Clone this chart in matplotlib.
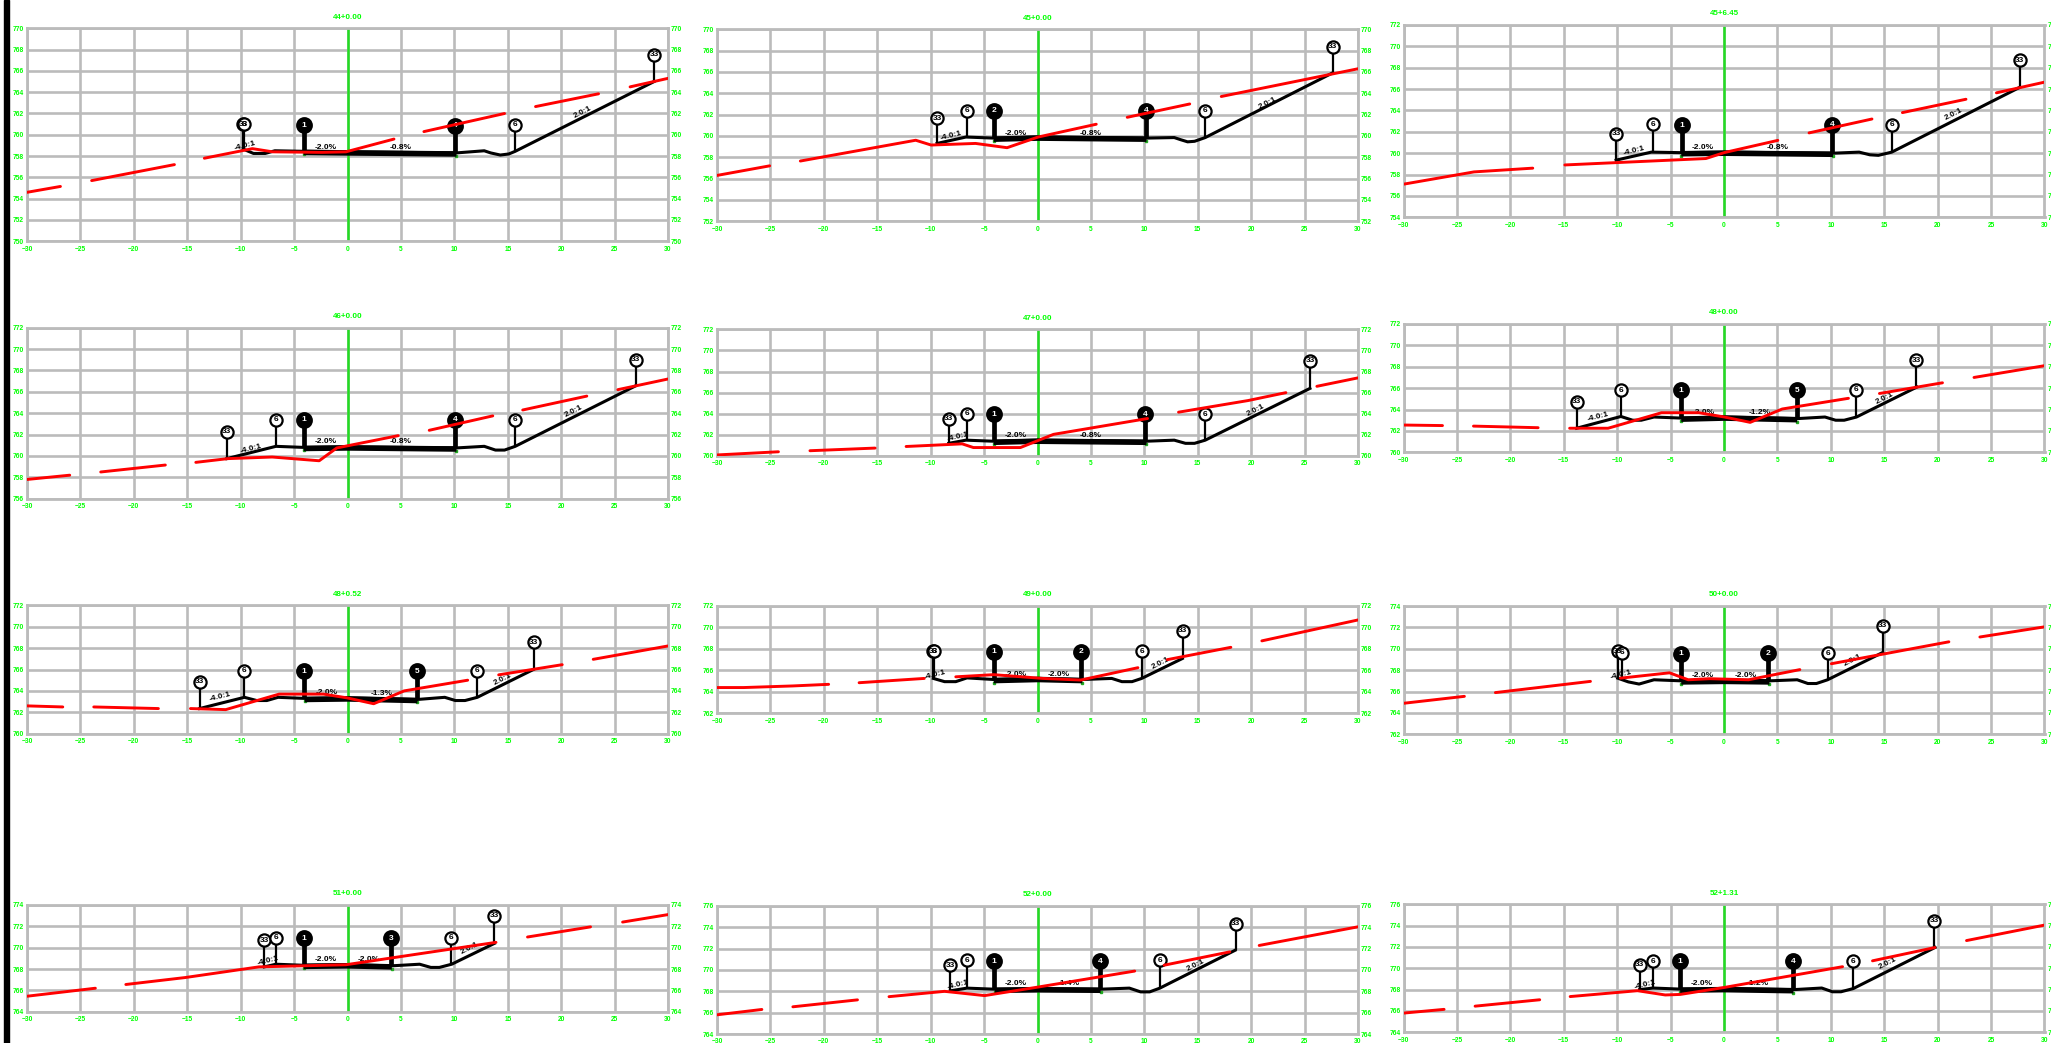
import numpy as np
import matplotlib
matplotlib.use("Agg")
import matplotlib.pyplot as plt
from matplotlib.patches import Rectangle

plt.rcParams['font.family'] = ['Liberation Sans', 'DejaVu Sans']

stations = ["44+0.00", "45+0.00", "45+6.45",
            "46+0.00", "47+0.00", "48+0.00",
            "48+0.52", "49+0.00", "50+0.00",
            "51+0.00", "52+0.00", "52+1.31"]
y_low = [750, 752, 754, 756, 760, 760, 760, 762, 762, 764, 764, 764]
y_high = [770, 770, 772, 772, 772, 772, 772, 772, 774, 774, 776, 776]

# existing ground, broken into pieces: [[xs, ys], ...]
ground = [
    [[[-30, -26.87], [754.6, 755.15]],
     [[-23.95, -16.2], [755.7, 757.2]],
     [[-13.4, -8.9, -7.0, -2.4, -0.15, 4.35], [757.8, 758.7, 758.4, 758.35, 758.4, 759.6]],
     [[7.15, 14.7], [760.3, 762.0]],
     [[17.6, 23.5], [762.65, 763.85]],
     [[26.45, 30], [764.5, 765.3]]],
    [[[-30, -25.07], [756.3, 757.2]],
     [[-22.2, -11.4, -9.96, -5.8, -2.85, 0.06, 5.5], [757.65, 759.6, 759.15, 759.3, 758.9, 759.9, 761.1]],
     [[8.4, 14.25], [761.75, 763.0]],
     [[17.2, 30], [763.7, 766.3]]],
    [[[-30, -23.4, -17.9], [757.1, 758.25, 758.6]],
     [[-14.9, -1.7, 0.04, 5.04], [758.9, 759.5, 760.06, 761.2]],
     [[7.96, 13.85], [761.9, 763.2]],
     [[16.7, 22.65], [763.8, 765.05]],
     [[25.5, 30], [765.65, 766.65]]],
    [[[-30, -26], [757.8, 758.2]],
     [[-23.1, -17.05], [758.5, 759.15]],
     [[-14.2, -11.2, -7.05, -2.65, -1, 4.75], [759.4, 759.75, 759.9, 759.55, 760.75, 761.9]],
     [[7.65, 13.6], [762.4, 763.75]],
     [[16.4, 22.4], [764.3, 765.6]],
     [[25.3, 30], [766.2, 767.2]]],
    [[[-30, -24.25], [760.1, 760.4]],
     [[-21.3, -15.2], [760.5, 760.75]],
     [[-12.3, -7.05, -6, -1.6, 1.5, 10.3], [760.9, 761.15, 760.8, 760.8, 762.05, 763.55]],
     [[13.2, 19.7, 23.25], [764.15, 765.25, 766]],
     [[26.15, 30], [766.6, 767.4]]],
    [[[-30, -26.35], [762.55, 762.5]],
     [[-23.45, -17.4], [762.45, 762.3]],
     [[-14.45, -10.85, -5.85, -2.35, 0.05, 2.45, 5.45, 11.65],
      [762.25, 762.25, 763.7, 763.7, 763.3, 762.8, 764.05, 765.05]],
     [[14.55, 20.45], [765.5, 766.5]],
     [[23.4, 30], [767, 768.1]]],
    [[[-30, -26.65], [762.6, 762.5]],
     [[-23.75, -17.7], [762.5, 762.35]],
     [[-14.7, -11.4, -6.4, -2.25, -0.05, 2.45, 5.3, 11.25],
      [762.35, 762.25, 763.7, 763.7, 763.35, 762.8, 764, 765]],
     [[14.15, 20.1], [765.5, 766.45]],
     [[23, 30], [766.95, 768.2]]],
    [[[-30, -27.5, -22.9, -19.55], [764.4, 764.4, 764.55, 764.7]],
     [[-16.7, -10.6], [764.85, 765.25]],
     [[-7.65, -4.1, 0.5, 4.05, 9.4], [765.4, 765.6, 765.25, 765.1, 766.25]],
     [[12.15, 18.1], [767, 768.15]],
     [[21, 30], [768.75, 770.7]]],
    [[[-30, -24.3], [764.9, 765.55]],
     [[-21.4, -12.5], [765.9, 766.95]],
     [[-9.7, -5.1, -3.35, -1.35, 2.3, 7.1], [767.25, 767.75, 767.1, 767.2, 767.1, 768.05]],
     [[10.05, 21.05], [768.6, 770.65]],
     [[23.95, 30], [771.1, 772.05]]],
    [[[-30, -23.6], [765.45, 766.2]],
     [[-20.75, -15.2, -8.3, -0.15, 13.9], [766.55, 767.2, 768.2, 768.4, 770.5]],
     [[16.85, 22.75], [771, 771.95]],
     [[25.75, 30], [772.4, 773.1]]],
    [[[-30, -25.8], [765.8, 766.3]],
     [[-22.9, -16.85], [766.55, 767.2]],
     [[-13.9, -8.7, -4.95, 0.05, 9.1], [767.5, 768, 767.6, 768.4, 769.9]],
     [[11.85, 18], [770.45, 771.7]],
     [[20.75, 30], [772.3, 774.05]]],
    [[[-30, -26.2], [765.8, 766.15]],
     [[-23.3, -17.25], [766.45, 767.05]],
     [[-14.4, -8.1, -5.5, -4.1, 0, 11.1], [767.35, 767.9, 767.5, 767.55, 768.2, 770.15]],
     [[13.9, 19.75], [770.7, 771.95]],
     [[22.7, 30], [772.6, 774.05]]],
]

# design template outline
road_x = [
    [-9.75, -8.8, -7.7, -6.8, -4.1, 0, 10.2, 12.8, 13.4, 14.3, 15.1, 15.7, 28.7],
    [-9.4, -6.7, -4.1, 0, 10.2, 12.8, 13.4, 14.05, 14.7, 15.7, 27.6],
    [-10.1, -6.8, -4.0, 0, 10.2, 12.65, 13.65, 14.45, 15.7, 27.65],
    [-11.3, -6.7, -4.1, 0, 10.2, 12.8, 13.85, 14.7, 15.7, 26.95],
    [-8.3, -6.7, -4.1, 0, 10.2, 12.8, 13.85, 14.7, 15.7, 25.5],
    [-13.8, -9.65, -8.55, -7.75, -6.55, -4.0, 0, 6.85, 9.45, 10.45, 11.25, 12.4, 18.05],
    [-13.85, -9.65, -8.5, -7.55, -6.5, -4.0, 0, 6.55, 9.1, 10.1, 11.0, 12.15, 17.4],
    [-9.75, -8.7, -7.65, -6.6, -4.1, 0, 4.2, 6.95, 7.9, 8.85, 9.75, 13.55],
    [-9.95, -8.95, -7.95, -6.55, -4.0, 0, 4.25, 6.85, 7.85, 8.65, 9.7, 14.85],
    [-7.8, -6.7, -4.1, 0, 4.15, 6.75, 7.8, 8.6, 9.75, 13.75],
    [-8.15, -6.6, -4.0, 0, 5.9, 8.6, 9.65, 10.5, 11.45, 18.5],
    [-7.9, -6.65, -4.1, 0, 6.5, 9.15, 10.15, 10.95, 12.1, 19.75],
]
road_y = [
    [758.65, 758.25, 758.25, 758.5, 758.45, 758.4, 758.3, 758.5, 758.3, 758.1, 758.2, 758.45, 765.0],
    [759.3, 759.9, 759.8, 759.9, 759.8, 759.85, 759.65, 759.45, 759.5, 759.85, 765.9],
    [759.35, 760.1, 760.05, 760.1, 760.0, 760.1, 759.85, 759.8, 760.1, 766.15],
    [759.75, 760.9, 760.8, 760.85, 760.75, 760.9, 760.55, 760.55, 760.9, 766.55],
    [761.2, 761.5, 761.4, 761.5, 761.4, 761.5, 761.2, 761.2, 761.5, 766.4],
    [762.25, 763.35, 763.0, 763.0, 763.3, 763.2, 763.3, 763.15, 763.3, 763.0, 763.0, 763.3, 766.1],
    [762.35, 763.4, 763.1, 763.1, 763.4, 763.3, 763.35, 763.2, 763.4, 763.1, 763.1, 763.4, 766.0],
    [765.25, 764.95, 764.95, 765.3, 765.15, 765.25, 765.15, 765.25, 764.95, 764.95, 765.25, 767.1],
    [767.25, 766.9, 766.7, 767.1, 767.0, 767.05, 767.0, 767.1, 766.75, 766.75, 767.1, 769.65],
    [768.2, 768.45, 768.35, 768.4, 768.3, 768.45, 768.15, 768.15, 768.45, 770.4],
    [768.05, 768.3, 768.2, 768.25, 768.2, 768.3, 767.95, 767.95, 768.3, 771.85],
    [768.0, 768.15, 768.05, 768.1, 768.0, 768.15, 767.8, 767.8, 768.1, 771.95],
]
# paved width, left and right edge
pave_left = [-4.1, -4.1, -4.0, -4.1, -4.1, -4.0, -4.0, -4.1, -4.0, -4.1, -4.0, -4.1]
pave_right = [10.2, 10.2, 10.2, 10.2, 10.2, 6.85, 6.55, 4.2, 4.25, 4.15, 5.9, 6.5]

# offset flags: station, top of the stem, text on the flag
flag_x = [
    [-9.75, -9.7, -4.1, 10.1, 15.7, 28.7],
    [-9.4, -6.6, -4.1, 10.2, 15.7, 27.65],
    [-10.1, -6.65, -3.97, 10.15, 15.7, 27.7],
    [-11.3, -6.7, -4.1, 10.1, 15.7, 27.0],
    [-8.3, -6.6, -4.1, 10.1, 15.7, 25.55],
    [-13.8, -9.65, -4.0, 6.85, 12.4, 18.0],
    [-13.85, -9.65, -4.1, 6.55, 12.15, 17.45],
    [-9.75, -9.7, -4.1, 4.1, 9.75, 13.6],
    [-9.95, -9.55, -4.0, 4.15, 9.7, 14.85],
    [-7.8, -6.7, -4.1, 4.1, 9.7, 13.75],
    [-8.15, -6.6, -4.1, 5.85, 11.45, 18.55],
    [-7.9, -6.65, -4.1, 6.5, 12.1, 19.7],
]
flag_top = [
    [761.0, 761.0, 760.9, 760.85, 760.95, 767.5],
    [761.65, 762.35, 762.35, 762.35, 762.35, 768.35],
    [761.8, 762.7, 762.6, 762.65, 762.65, 768.7],
    [762.25, 763.4, 763.4, 763.4, 763.4, 769.0],
    [763.55, 764.0, 763.95, 763.95, 763.95, 769.0],
    [764.75, 765.8, 765.8, 765.8, 765.85, 768.6],
    [764.85, 765.9, 765.85, 765.85, 765.9, 768.55],
    [767.8, 767.8, 767.75, 767.75, 767.8, 769.7],
    [769.75, 769.65, 769.55, 769.6, 769.6, 772.15],
    [770.7, 770.95, 770.9, 770.9, 770.95, 773.0],
    [770.45, 770.9, 770.8, 770.8, 770.9, 774.35],
    [770.35, 770.65, 770.65, 770.65, 770.65, 774.45],
]
flag_text = [
    ["33", "6", "1", "4", "6", "33"],
    ["33", "6", "2", "4", "6", "33"],
    ["33", "6", "1", "4", "6", "33"],
    ["33", "6", "1", "4", "6", "33"],
    ["33", "6", "1", "4", "6", "33"],
    ["33", "6", "1", "5", "6", "33"],
    ["33", "6", "1", "5", "6", "33"],
    ["33", "6", "1", "2", "6", "33"],
    ["33", "6", "1", "2", "6", "33"],
    ["33", "6", "1", "3", "6", "33"],
    ["33", "6", "1", "4", "6", "33"],
    ["33", "6", "1", "4", "6", "33"],
]

# slope notes
left_note_xy = [(-9.6, 759.0), (-8.1, 760.0), (-8.4, 760.2), (-9.05, 760.7), (-7.45, 761.85), (-11.8, 763.3),
                (-11.9, 763.4), (-9.55, 765.6), (-9.6, 767.55), (-7.45, 768.8), (-7.45, 768.6), (-7.4, 768.4)]
deck_left_xy = [(-2.0, 758.84), (-2.0, 760.25), (-1.97, 760.5), (-2.0, 761.35), (-2.0, 761.9), (-1.9, 763.75),
                (-1.95, 763.85), (-2.0, 765.65), (-1.95, 767.5), (-2.0, 768.9), (-2.0, 768.75), (-2.05, 768.6)]
deck_right_xy = [(5.0, 758.84), (5.0, 760.25), (5.05, 760.5), (5.0, 761.35), (5.0, 761.9), (3.35, 763.75),
                 (3.2, 763.75), (2.0, 765.65), (2.05, 767.5), (2.0, 768.9), (2.9, 768.75), (3.2, 768.6)]
deck_right_text = ["-0.8%", "-0.8%", "-0.8%", "-0.8%", "-0.8%", "-1.2%",
                   "-1.3%", "-2.0%", "-2.0%", "-2.0%", "-1.4%", "-1.2%"]
cut_note_xy = [(22.0, 762.1), (21.5, 763.05), (21.5, 763.6), (21.15, 764.15), (20.4, 764.35), (15.05, 765.05),
               (14.55, 765.1), (11.55, 766.65), (12.05, 768.95), (11.4, 769.95), (14.8, 770.45), (15.35, 770.45)]

x_ticks = np.arange(-30, 31, 5)

W, H = 2051, 1043
# panel frames in pixels
left_px = [27, 717, 1403.5] * 4
right_px = [668, 1358, 2044.5] * 4
top_px = [28.3, 29.3, 25, 327.7, 329.3, 324, 605.3, 606, 606, 905, 906, 904.3]
bottom_px = [241.3, 221.3, 217.3, 498.7, 456, 452.3, 733.7, 713.3, 734.3, 1011.7, 1034, 1032.3]

GREEN = '#00FF00'
GRID = '#BBBBBB'

fig = plt.figure(figsize=(W / 100, H / 100), dpi=100, facecolor='white')
fig.add_artist(Rectangle((3.5 / W, 0), 5.5 / W, 1, transform=fig.transFigure, color='black'))

for i in range(12):
    ax = fig.add_axes([left_px[i] / W, 1 - bottom_px[i] / H,
                       (right_px[i] - left_px[i]) / W, (bottom_px[i] - top_px[i]) / H])
    ax.set_xlim(-30, 30)
    ax.set_ylim(y_low[i], y_high[i])
    ax.set_xticks(x_ticks)
    ax.set_yticks(np.arange(y_low[i], y_high[i] + 1, 2))
    ax.tick_params(length=0, labelsize=4.8, labelcolor=GREEN, labelright=True)
    ax.tick_params(axis='y', pad=2.2)
    ax.tick_params(axis='x', pad=3.2)
    for lab in ax.get_xticklabels() + ax.get_yticklabels():
        lab.set_fontweight('bold')
    ax.grid(True, color=GRID, lw=1.9)
    ax.set_axisbelow(True)
    for sp in ax.spines.values():
        sp.set_color(GRID)
        sp.set_linewidth(2.0)
    ax.set_title(stations[i], color=GREEN, fontsize=5.8, fontweight='bold', pad=7)

    ax.axvline(0, color='#22DD22', lw=1.8, zorder=2)

    # template
    ax.plot(road_x[i], road_y[i], color='black', lw=2.2, zorder=3, solid_joinstyle='round')
    xs = np.array([pave_left[i], 0, pave_right[i]])
    ax.plot(xs, np.interp(xs, road_x[i], road_y[i]) - 0.1, color='black', lw=4.0, zorder=3,
            solid_capstyle='butt')
    ax.plot(xs[[0, 2]], np.interp(xs[[0, 2]], road_x[i], road_y[i]) - 0.28, ls='none', marker='s',
            ms=1.5, color='#22AA22', zorder=2.5)

    # flags
    for x, top, txt in zip(flag_x[i], flag_top[i], flag_text[i]):
        base = np.interp(x, road_x[i], road_y[i])
        heavy = txt not in ("33", "6")
        ax.plot([x, x], [base, top], color='black', lw=3.4 if heavy else 1.6, zorder=4,
                solid_capstyle='butt')
        ax.plot([x], [top], marker='o', ms=10.5 if heavy else 8.8,
                mfc='black' if heavy else 'white', mec='black', mew=1.6, zorder=5)
        ax.text(x, top, txt, color='white' if heavy else 'black', fontsize=6, fontweight='bold',
                ha='center', va='center', zorder=6)

    # notes
    note = dict(color='black', fontsize=6, fontweight='bold', ha='center', va='center')
    ax.text(*left_note_xy[i], "-4.0:1", rotation=14, zorder=2.8, **note)
    ax.text(*deck_left_xy[i], "-2.0%", zorder=2.8, **note)
    ax.text(*deck_right_xy[i], deck_right_text[i], zorder=2.8, **note)
    ax.text(*cut_note_xy[i], "2.0:1", rotation=27, zorder=2.8, **note)

    # ground goes on top of everything
    for gx, gy in ground[i]:
        ax.plot(gx, gy, color='#FF0000', lw=2.1, zorder=7, solid_capstyle='round')

fig.savefig("out.png", dpi=100, facecolor='white')
